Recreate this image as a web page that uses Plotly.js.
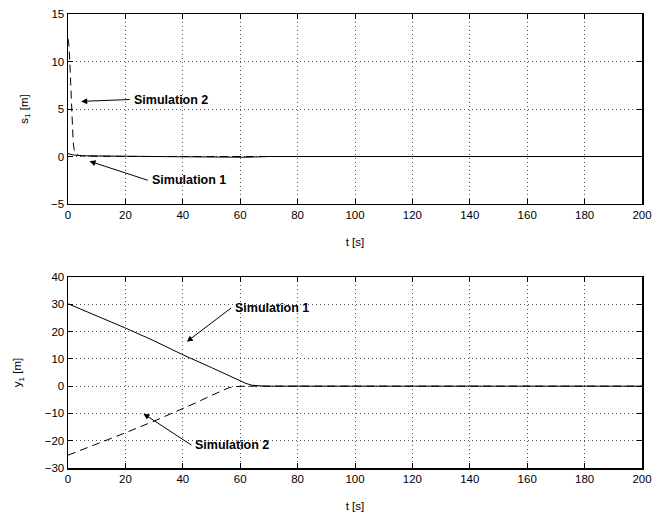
<!DOCTYPE html>
<html>
<head>
<meta charset="utf-8">
<script src="https://cdn.plot.ly/plotly-3.0.1.min.js"></script>
<style>html,body{margin:0;padding:0;background:#fff;}#chart{width:654px;height:512px;}</style>
</head>
<body>
<div id="chart"></div>
<script>
// Top panel: s1 [m]
var sTime1 = [0, 1, 2, 5, 10, 20, 30, 40, 45, 50, 55, 58, 62, 66, 70, 80, 100, 120, 140, 160, 180, 200];
var sSim1  = [0.3, 0.2, 0.15, 0.08, 0.05, 0.02, 0, -0.03, -0.05, -0.08, -0.12, -0.12, -0.08, -0.04, 0, 0, 0, 0, 0, 0, 0, 0];
var sTime2 = [0, 0.3, 0.6, 0.9, 1.2, 1.5, 1.8, 2.1, 2.5, 3, 3.5, 4, 5, 6, 10, 20, 40, 60, 80, 100, 120, 140, 160, 180, 200];
var sSim2  = [12.4, 11.8, 10.2, 8.0, 5.4, 3.0, 1.5, 0.8, 0.4, 0.22, 0.15, 0.1, 0.06, 0.04, 0.02, 0, 0, 0, 0, 0, 0, 0, 0, 0, 0];
// Bottom panel: y1 [m]
var yTime1 = [0, 10, 20, 30, 40, 50, 55, 58, 60, 62, 64, 66, 68, 70, 80, 100, 120, 140, 160, 180, 200];
var ySim1  = [30.2, 25.8, 21.3, 16.6, 11.5, 6.8, 4.4, 2.9, 1.9, 1.0, 0.35, 0.08, 0.02, 0, 0, 0, 0, 0, 0, 0, 0];
var yTime2 = [0, 10, 20, 30, 40, 45, 50, 53, 56, 58, 60, 62, 70, 80, 100, 120, 140, 160, 180, 200];
var ySim2  = [-25.3, -21.3, -17.1, -12.8, -8.3, -5.9, -3.4, -1.9, -0.6, -0.2, -0.05, 0, 0, 0, 0, 0, 0, 0, 0, 0];
var xTicks = [0, 20, 40, 60, 80, 100, 120, 140, 160, 180, 200];
var sTicks = [-5, 0, 5, 10, 15];
var yTicks = [-30, -20, -10, 0, 10, 20, 30, 40];
var labels = ["Simulation 1", "Simulation 2"];

var lineSolid = {color: '#000', width: 1};
var lineDash = {color: '#000', width: 1, dash: '8px,5px'};
var traces = [
  {x: sTime1, y: sSim1, xaxis: 'x', yaxis: 'y', mode: 'lines', line: lineSolid, name: labels[0]},
  {x: sTime2, y: sSim2, xaxis: 'x', yaxis: 'y', mode: 'lines', line: lineDash, name: labels[1]},
  {x: yTime1, y: ySim1, xaxis: 'x2', yaxis: 'y2', mode: 'lines', line: lineSolid, name: labels[0]},
  {x: yTime2, y: ySim2, xaxis: 'x2', yaxis: 'y2', mode: 'lines', line: lineDash, name: labels[1]}
];

var font = {family: 'Liberation Sans, Arial, Helvetica, sans-serif', size: 11.5, color: '#000'};
function xax(anchor) {
  return {anchor: anchor, range: [0, 200], tickvals: xTicks, ticks: 'inside', ticklen: 5, tickcolor: '#000',
    showline: true, linecolor: '#000', linewidth: 1.5, mirror: 'ticks', showgrid: true, gridcolor: '#555',
    griddash: '1px,3px', gridwidth: 1, zeroline: false, tickfont: font,
    title: {text: 't [s]', font: font, standoff: 17}};
}
function yax(anchor, range, ticks, domain, title) {
  return {anchor: anchor, domain: domain, range: range, tickvals: ticks, ticks: 'inside', ticklen: 5, tickcolor: '#000',
    showline: true, linecolor: '#000', linewidth: 1.5, mirror: 'ticks', showgrid: true, gridcolor: '#555',
    griddash: '1px,3px', gridwidth: 1, zeroline: false, tickfont: font,
    title: {text: title, font: font, standoff: 20}};
}
var annFont = {family: 'Liberation Sans, Arial, Helvetica, sans-serif', size: 12.5, color: '#000', weight: 'bold'};
function ann(xref, yref, tx, ty, hx, hy, text) {
  return {xref: xref, yref: yref, x: hx, y: hy, ax: tx, ay: ty, axref: xref, ayref: yref,
    text: '<b>' + text + '</b>', font: annFont, xanchor: 'left', yanchor: 'middle', borderpad: 3,
    showarrow: true, arrowhead: 2, arrowsize: 1.2, arrowwidth: 1, arrowcolor: '#000'};
}
var layout = {
  width: 654, height: 512,
  margin: {l: 68, r: 12, t: 14, b: 44},
  paper_bgcolor: '#fff', plot_bgcolor: '#fff',
  showlegend: false,
  font: font,
  xaxis: xax('y'),
  yaxis: yax('x', [-5, 15], sTicks, [0.5815, 1], 's<sub>1</sub> [m]'),
  xaxis2: xax('y2'),
  yaxis2: yax('x2', [-30, 40], yTicks, [0, 0.4207], 'y<sub>1</sub> [m]'),
  annotations: [
    ann('x', 'y', 21.5, 6.0, 4.6, 5.8, labels[1]),
    ann('x', 'y', 27.8, -2.5, 7.5, -0.5, labels[0]),
    ann('x2', 'y2', 56.8, 28.6, 41.4, 16.3, labels[0]),
    ann('x2', 'y2', 43.0, -21.6, 26.3, -10.1, labels[1])
  ]
};
Plotly.newPlot('chart', traces, layout, {staticPlot: true, displayModeBar: false});
</script>
</body>
</html>
